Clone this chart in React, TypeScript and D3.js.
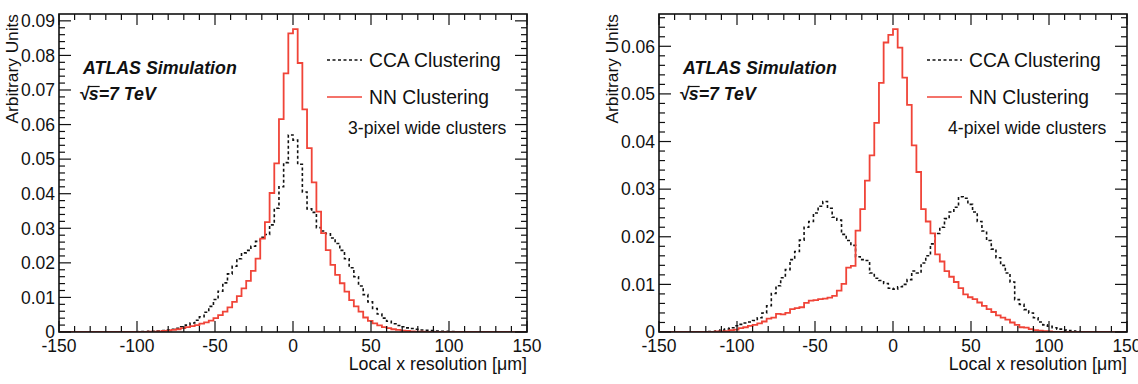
import React, { useEffect, useRef } from 'react';
import * as d3 from 'd3';

// Histogram binning: 100 bins of 3 µm between -150 and 150 µm
const xMin = -150;
const xMax = 150;
const binWidth = 3;

const xTicks = [-150, -100, -50, 0, 50, 100, 150];
const yTicks3 = [0, 0.01, 0.02, 0.03, 0.04, 0.05, 0.06, 0.07, 0.08, 0.09];
const yTicks4 = [0, 0.01, 0.02, 0.03, 0.04, 0.05, 0.06];

// 3-pixel wide clusters
const cca3 = [
  0, 0, 0, 0, 0, 0, 0, 0, 0, 0,
  0, 0, 0, 0, 0, 0, 0, 0.0001, 0.0001, 0.0002,
  0.0002, 0.0003, 0.0004, 0.0006, 0.0008, 0.0011, 0.0015, 0.0020, 0.0026, 0.0034,
  0.0044, 0.0057, 0.0074, 0.0094, 0.0118, 0.0142, 0.0168, 0.0190, 0.0212, 0.0229,
  0.0236, 0.0248, 0.0262, 0.0274, 0.0282, 0.0310, 0.0358, 0.0420, 0.0490, 0.0570,
  0.0555, 0.0485, 0.0405, 0.0356, 0.0346, 0.0302, 0.0292, 0.0284, 0.0272, 0.0256,
  0.0236, 0.0212, 0.0186, 0.0160, 0.0133, 0.0108, 0.0087, 0.0068, 0.0052, 0.0040,
  0.0031, 0.0024, 0.0019, 0.0015, 0.0012, 0.0010, 0.0008, 0.0006, 0.0005, 0.0004,
  0.0003, 0.0002, 0.0002, 0.0001, 0.0001, 0, 0, 0, 0, 0,
  0, 0, 0, 0, 0, 0, 0, 0, 0, 0,
];
const nn3 = [
  0, 0, 0, 0, 0, 0, 0, 0, 0, 0,
  0, 0, 0, 0, 0, 0, 0, 0, 0, 0.0001,
  0.0001, 0.0002, 0.0003, 0.0004, 0.0006, 0.0008, 0.0011, 0.0014, 0.0017, 0.0020,
  0.0024, 0.0028, 0.0033, 0.0040, 0.0049, 0.0059, 0.0071, 0.0087, 0.0104, 0.0126,
  0.0148, 0.0177, 0.0212, 0.0270, 0.0318, 0.0402, 0.0488, 0.0616, 0.0748, 0.0864,
  0.0876, 0.0778, 0.0644, 0.0532, 0.0433, 0.0348, 0.0286, 0.0237, 0.0194, 0.0165,
  0.0141, 0.0117, 0.0092, 0.0074, 0.0059, 0.0042, 0.0032, 0.0025, 0.0019, 0.0014,
  0.0011, 0.0008, 0.0006, 0.0004, 0.0003, 0.0002, 0.0001, 0.0001, 0, 0,
  0, 0, 0, 0, 0, 0, 0, 0, 0, 0,
  0, 0, 0, 0, 0, 0, 0, 0, 0, 0,
];

// 4-pixel wide clusters
const cca4 = [
  0, 0, 0, 0, 0, 0, 0, 0, 0, 0,
  0.0001, 0.0001, 0.0002, 0.0004, 0.0006, 0.0009, 0.0013, 0.0016, 0.0019, 0.0021,
  0.0024, 0.0030, 0.0040, 0.0055, 0.0081, 0.0097, 0.0114, 0.0131, 0.0152, 0.0169,
  0.0193, 0.0220, 0.0232, 0.0250, 0.0264, 0.0274, 0.0260, 0.0241, 0.0235, 0.0205,
  0.0192, 0.0182, 0.0158, 0.0152, 0.0150, 0.0124, 0.0113, 0.0108, 0.0102, 0.0092,
  0.0090, 0.0095, 0.0100, 0.0110, 0.0128, 0.0124, 0.0145, 0.0160, 0.0185, 0.0207,
  0.0220, 0.0238, 0.0252, 0.0262, 0.0284, 0.0281, 0.0268, 0.0252, 0.0232, 0.0212,
  0.0192, 0.0174, 0.0156, 0.0140, 0.0124, 0.0105, 0.0068, 0.0058, 0.0047, 0.0040,
  0.0030, 0.0021, 0.0015, 0.0012, 0.0009, 0.0006, 0.0004, 0.0003, 0.0002, 0.0001,
  0, 0, 0, 0, 0, 0, 0, 0, 0, 0,
];
const nn4 = [
  0, 0, 0, 0, 0, 0, 0, 0, 0, 0,
  0, 0, 0.0001, 0.0001, 0.0002, 0.0004, 0.0005, 0.0008, 0.0010, 0.0013,
  0.0015, 0.0018, 0.0022, 0.0028, 0.0030, 0.0038, 0.0037, 0.0040, 0.0048, 0.0050,
  0.0052, 0.0061, 0.0066, 0.0067, 0.0069, 0.0070, 0.0072, 0.0076, 0.0087, 0.0101,
  0.0135, 0.0139, 0.0213, 0.0258, 0.0318, 0.0371, 0.0439, 0.0523, 0.0608, 0.0624,
  0.0636, 0.0597, 0.0534, 0.0477, 0.0392, 0.0336, 0.0258, 0.0232, 0.0207, 0.0163,
  0.0148, 0.0128, 0.0116, 0.0105, 0.0092, 0.0079, 0.0073, 0.0069, 0.0062, 0.0055,
  0.0048, 0.0042, 0.0035, 0.0030, 0.0026, 0.0020, 0.0015, 0.0010, 0.0009, 0.0006,
  0.0004, 0.0003, 0.0002, 0.0001, 0, 0, 0, 0, 0, 0,
  0, 0, 0, 0, 0, 0, 0, 0, 0, 0,
];

const panels = [
  { offset: 0, cca: cca3, nn: nn3, yTicks: yTicks3, note: '3-pixel wide clusters' },
  { offset: 600, cca: cca4, nn: nn4, yTicks: yTicks4, note: '4-pixel wide clusters' },
];

const font = '"Liberation Sans", Arial, Helvetica, sans-serif';
const red = '#f04438';

function drawPanel(svg, p) {
  const left = 59;
  const top = 14;
  const width = 468;
  const height = 318;

  const g = svg.append('g').attr('transform', `translate(${p.offset + left}, ${top})`);

  const x = d3.scaleLinear().domain([xMin, xMax]).range([0, width]);
  const y = d3.scaleLinear().domain([0, d3.max(p.nn) * 1.05]).range([height, 0]);

  const clipId = `clip-${p.offset}`;
  g.append('clipPath').attr('id', clipId)
    .append('rect').attr('width', width).attr('height', height);

  // step histograms
  const line = d3.line()
    .x((d, i) => x(xMin + i * binWidth))
    .y(d => y(d))
    .curve(d3.curveStepAfter);

  const hist = g.append('g').attr('clip-path', `url(#${clipId})`);
  hist.append('path')
    .attr('d', line(p.cca.concat([p.cca[p.cca.length - 1]])))
    .attr('fill', 'none')
    .attr('stroke', '#111')
    .attr('stroke-width', 1.6)
    .attr('stroke-dasharray', '3,2.5');
  hist.append('path')
    .attr('d', line(p.nn.concat([p.nn[p.nn.length - 1]])))
    .attr('fill', 'none')
    .attr('stroke', red)
    .attr('stroke-width', 1.8);

  // ticks on all four sides
  const xMinor = d3.range(xMin, xMax + 1, 10);
  const yStep = 0.002;
  const yMinor = d3.range(0, y.domain()[1], yStep);
  const ticks = g.append('g').attr('stroke', '#111').attr('stroke-width', 1.2);

  xMinor.forEach(v => {
    const len = xTicks.includes(v) ? 11 : 6;
    ticks.append('line').attr('x1', x(v)).attr('x2', x(v)).attr('y1', height).attr('y2', height - len);
    ticks.append('line').attr('x1', x(v)).attr('x2', x(v)).attr('y1', 0).attr('y2', len);
  });
  yMinor.forEach(v => {
    const major = p.yTicks.some(t => Math.abs(t - v) < 1e-9);
    const len = major ? 12 : 6;
    ticks.append('line').attr('y1', y(v)).attr('y2', y(v)).attr('x1', 0).attr('x2', len);
    ticks.append('line').attr('y1', y(v)).attr('y2', y(v)).attr('x1', width).attr('x2', width - len);
  });

  g.append('rect')
    .attr('width', width)
    .attr('height', height)
    .attr('fill', 'none')
    .attr('stroke', '#111')
    .attr('stroke-width', 1.6);

  // tick labels
  g.selectAll('.xlab')
    .data(xTicks)
    .enter()
    .append('text')
    .attr('x', d => x(d))
    .attr('y', height + 20)
    .attr('text-anchor', 'middle')
    .style('font-size', '17.5px')
    .text(d => d);

  g.selectAll('.ylab')
    .data(p.yTicks)
    .enter()
    .append('text')
    .attr('x', -4)
    .attr('y', d => y(d))
    .attr('dy', '0.36em')
    .attr('text-anchor', 'end')
    .style('font-size', '17.5px')
    .text(d => (d === 0 ? '0' : d3.format('.2f')(d)));

  // axis titles
  g.append('text')
    .attr('x', width)
    .attr('y', height + 38)
    .attr('text-anchor', 'end')
    .style('font-size', '17.8px')
    .text('Local x resolution [\u03bcm]');

  g.append('text')
    .attr('transform', `translate(${-41}, 0) rotate(-90)`)
    .attr('text-anchor', 'end')
    .style('font-size', '17.3px')
    .text('Arbitrary Units');

  // ATLAS label
  g.append('text')
    .attr('x', 24)
    .attr('y', 60)
    .style('font-size', '17.8px')
    .style('font-weight', 'bold')
    .style('font-style', 'italic')
    .text('ATLAS Simulation');

  const energy = g.append('text')
    .attr('x', 20)
    .attr('y', 86)
    .style('font-size', '17.8px')
    .style('font-weight', 'bold')
    .style('font-style', 'italic')
    .text('\u221as=7 TeV');
  const node = energy.node();
  const rootW = node.getSubStringLength(0, 1);
  const sW = node.getSubStringLength(1, 1);
  g.append('line')
    .attr('x1', 20 + rootW - 1)
    .attr('x2', 20 + rootW + sW + 1)
    .attr('y1', 86 - 13.5)
    .attr('y2', 86 - 13.5)
    .attr('stroke', '#111')
    .attr('stroke-width', 1.2);

  // legend
  const legend = [
    { label: 'CCA Clustering', color: '#111', dash: '3,2.5', yy: 46 },
    { label: 'NN Clustering', color: red, dash: null, yy: 83 },
  ];
  legend.forEach(l => {
    g.append('line')
      .attr('x1', 268)
      .attr('x2', 303)
      .attr('y1', l.yy)
      .attr('y2', l.yy)
      .attr('stroke', l.color)
      .attr('stroke-width', 1.6)
      .attr('stroke-dasharray', l.dash);
    g.append('text')
      .attr('x', 310)
      .attr('y', l.yy)
      .attr('dy', '0.36em')
      .style('font-size', '19.3px')
      .text(l.label);
  });

  g.append('text')
    .attr('x', 289)
    .attr('y', 114)
    .attr('dy', '0.36em')
    .style('font-size', '17.6px')
    .text(p.note);
}

function App() {
  const chartRef = useRef(null);

  useEffect(() => {
    const svg = d3.select(chartRef.current);
    svg.selectAll('*').remove();
    panels.forEach(p => drawPanel(svg, p));
  }, []);

  return (
    <svg
      ref={chartRef}
      width={1138}
      height={384}
      style={{ position: 'absolute', left: 0, top: 0, background: '#fff', fontFamily: font, fill: '#111' }}
    />
  );
}

export default App;
